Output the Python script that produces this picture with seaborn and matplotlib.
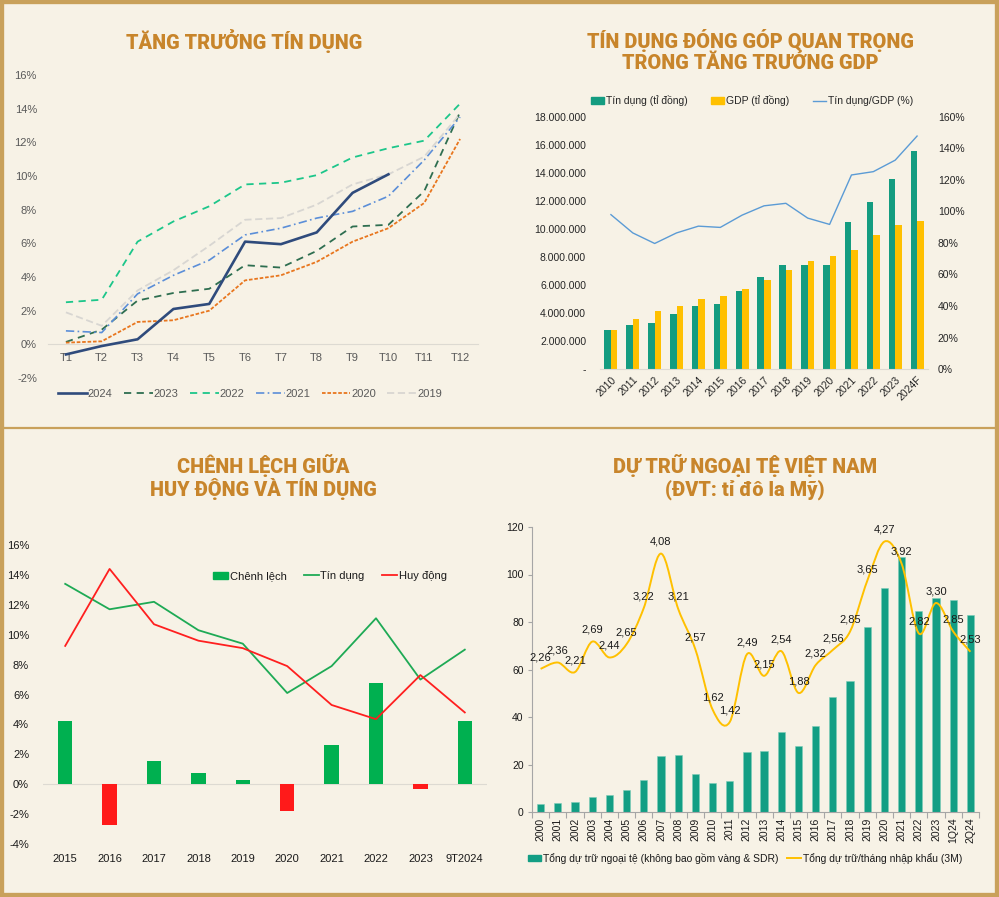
import numpy as np
import pandas as pd
import matplotlib.pyplot as plt
import seaborn as sns
from matplotlib.path import Path
from matplotlib.patches import PathPatch, Patch, Rectangle
from matplotlib.lines import Line2D
from matplotlib.ticker import FuncFormatter

# ---- panel 1: tăng trưởng tín dụng theo tháng (%)
months = ['T1', 'T2', 'T3', 'T4', 'T5', 'T6', 'T7', 'T8', 'T9', 'T10', 'T11', 'T12']
g2024 = [-0.6, -0.1, 0.3, 2.1, 2.4, 6.1, 5.95, 6.65, 9.0, 10.1]
g2023 = [0.14, 0.87, 2.6, 3.05, 3.3, 4.7, 4.56, 5.55, 7.0, 7.1, 9.1, 13.8]
g2022 = [2.5, 2.65, 6.1, 7.3, 8.2, 9.5, 9.6, 10.05, 11.1, 11.65, 12.1, 14.3]
g2021 = [0.8, 0.7, 3.0, 4.1, 5.0, 6.5, 6.9, 7.5, 7.9, 8.8, 10.95, 13.5]
g2020 = [0.1, 0.18, 1.33, 1.43, 2.0, 3.8, 4.1, 4.9, 6.1, 6.9, 8.4, 12.2]
g2019 = [1.9, 1.1, 3.2, 4.4, 5.85, 7.4, 7.5, 8.3, 9.5, 10.1, 11.15, 13.7]

# ---- panel 2: tín dụng, GDP (tỉ đồng) và tín dụng/GDP (%)
years_gdp = ['2010', '2011', '2012', '2013', '2014', '2015', '2016', '2017',
             '2018', '2019', '2020', '2021', '2022', '2023', '2024F']
credit = [2760000, 3110000, 3300000, 3930000, 4520000, 4650000, 5550000, 6550000,
          7400000, 7400000, 7400000, 10470000, 11930000, 13570000, 15600000]
gdp = [2780000, 3590000, 4140000, 4520000, 5000000, 5200000, 5690000, 6350000,
       7050000, 7740000, 8100000, 8500000, 9540000, 10260000, 10540000]
credit_gdp = [98, 86.4, 79.7, 86.4, 90.7, 89.9, 97.7, 103.6, 105.2, 95.8, 91.8,
              123.2, 125.3, 132.6, 147.9]

# ---- panel 3: chênh lệch huy động / tín dụng (%)
years_gap = ['2015', '2016', '2017', '2018', '2019', '2020', '2021', '2022', '2023', '9T2024']
credit_growth = [13.4, 11.7, 12.2, 10.3, 9.4, 6.1, 7.9, 11.1, 7.0, 9.0]
deposit_growth = [9.25, 14.4, 10.7, 9.6, 9.1, 7.9, 5.3, 4.35, 7.3, 4.8]
gap = [4.2, -2.74, 1.56, 0.76, 0.3, -1.78, 2.6, 6.74, -0.3, 4.2]

# ---- panel 4: dự trữ ngoại tệ (tỉ USD) và số tháng nhập khẩu
periods = ['2000', '2001', '2002', '2003', '2004', '2005', '2006', '2007', '2008',
           '2009', '2010', '2011', '2012', '2013', '2014', '2015', '2016', '2017',
           '2018', '2019', '2020', '2021', '2022', '2023', '1Q24', '2Q24']
reserves = [3.5, 3.8, 4.2, 6.3, 7.1, 9.1, 13.4, 23.5, 24.0, 16.1, 12.2, 13.2, 25.3,
            25.5, 33.8, 27.9, 36.2, 48.5, 55.0, 77.9, 94.3, 107.4, 84.8, 90.2, 89.1, 82.8]
import_months = [2.26, 2.36, 2.21, 2.69, 2.44, 2.65, 3.22, 4.08, 3.21, 2.57, 1.62, 1.42,
                 2.49, 2.15, 2.54, 1.88, 2.32, 2.56, 2.85, 3.65, 4.27, 3.92, 2.82, 3.30,
                 2.85, 2.53]

BG = '#F7F2E6'
GOLD = '#C9A15B'
TITLE = '#C8852B'
W, H = 999, 897

plt.rcParams['font.family'] = ['Liberation Sans', 'DejaVu Sans']

fig = plt.figure(figsize=(W / 100, H / 100), dpi=100)
fig.patch.set_facecolor(BG)


def place(left, top, right, bottom):
    ax = fig.add_axes([left / W, 1 - bottom / H, (right - left) / W, (bottom - top) / H])
    ax.set_facecolor('none')
    return ax


def title(x, y, text):
    fig.text(x / W, 1 - y / H, text, ha='center', va='center', fontsize=14.3,
             fontweight='heavy', color=TITLE, family=['Roboto', 'DejaVu Sans'])


pct = FuncFormatter(lambda v, p: f'{v:.0f}%')

# ================= panel 1
title(244, 41, 'TĂNG TRƯỞNG TÍN DỤNG')
ax1 = place(48, 75, 478, 378)
styles = [
    ('2024', g2024, '#2F4B7C', '-', 1.9),
    ('2023', g2023, '#2E6E50', (0, (4, 3)), 1.3),
    ('2022', g2022, '#1CC68A', (0, (4, 3)), 1.3),
    ('2021', g2021, '#5B8ED8', (0, (5, 2, 1, 2)), 1.2),
    ('2020', g2020, '#E8761E', (0, (2, 1)), 1.3),
    ('2019', g2019, '#D8D6D2', (0, (4, 2)), 1.3),
]
for name, vals, col, ls, lw in styles:
    sns.lineplot(x=np.arange(len(vals)), y=vals, ax=ax1, color=col, linestyle=ls,
                 linewidth=lw, label=name, zorder=3 if name == '2024' else 2)
ax1.set_xlim(-0.5, 11.5)
ax1.set_ylim(-2, 16)
ax1.set_yticks(range(-2, 17, 2))
ax1.yaxis.set_major_formatter(pct)
ax1.set_xticks(range(12))
ax1.set_xticklabels(months)
for s in ['top', 'right', 'left']:
    ax1.spines[s].set_visible(False)
ax1.spines['bottom'].set_position(('data', 0))
ax1.spines['bottom'].set_color('#DDDAD2')
ax1.tick_params(length=0, labelsize=8, colors='#595959')
ax1.tick_params(axis='y', pad=8)
ax1.tick_params(axis='x', pad=6)
ax1.set_xlabel('')
ax1.set_ylabel('')
h1, l1 = ax1.get_legend_handles_labels()
ax1.legend(h1, l1, loc='center', bbox_to_anchor=(250 / W, 1 - 394 / H),
           bbox_transform=fig.transFigure, ncol=6, frameon=False, fontsize=8,
           handlelength=2.6, handletextpad=0.1, columnspacing=1.0, labelcolor='#595959')

# ================= panel 2
title(750, 41, 'TÍN DỤNG ĐÓNG GÓP QUAN TRỌNG')
title(750, 63, 'TRONG TĂNG TRƯỞNG GDP')
ax2 = place(600, 117, 928, 369)
lbl_c, lbl_g = 'Tín dụng (tỉ đồng)', 'GDP (tỉ đồng)'
df2 = pd.DataFrame({
    'year': years_gdp * 2,
    'value': credit + gdp,
    'series': [lbl_c] * len(credit) + [lbl_g] * len(gdp),
})
sns.barplot(data=df2, x='year', y='value', hue='series', palette=['#149C80', '#FFC000'],
            width=0.6, saturation=1, legend=False, ax=ax2)
ax2.set_ylim(0, 18000000)
ax2.set_yticks(range(0, 18000001, 2000000))
ax2.yaxis.set_major_formatter(FuncFormatter(
    lambda v, p: '-' if v == 0 else f'{v:,.0f}'.replace(',', '.')))
ax2.set_xticks(range(len(years_gdp)))
ax2.set_xticklabels(years_gdp, rotation=45, ha='right', rotation_mode='anchor')
for s in ['top', 'right', 'left']:
    ax2.spines[s].set_visible(False)
ax2.spines['bottom'].set_color('#DDDAD2')
ax2.tick_params(length=0, labelsize=7.5, colors='#262626')
ax2.tick_params(axis='y', pad=10)
ax2.tick_params(axis='x', pad=4)
ax2.set_xlabel('')
ax2.set_ylabel('')
ax2b = ax2.twinx()
sns.lineplot(x=np.arange(len(credit_gdp)), y=credit_gdp, ax=ax2b, color='#5B9BD5', linewidth=1.0)
ax2b.set_ylim(0, 160)
ax2b.set_yticks(range(0, 161, 20))
ax2b.yaxis.set_major_formatter(pct)
for s in ax2b.spines.values():
    s.set_visible(False)
ax2b.tick_params(length=0, labelsize=7.5, colors='#262626', pad=7)
ax2b.set_ylabel('')
ax2.set_xlim(-0.5, len(years_gdp) - 0.5)
h2 = [Patch(color='#149C80'), Patch(color='#FFC000'), Line2D([], [], color='#5B9BD5', lw=1.0)]
ax2.legend(h2, [lbl_c, lbl_g, 'Tín dụng/GDP (%)'], loc='center',
           bbox_to_anchor=(752 / W, 1 - 101 / H), bbox_transform=fig.transFigure,
           ncol=3, frameon=False, fontsize=7.5, handlelength=1.3, handleheight=0.7,
           handletextpad=0.2, columnspacing=2.2, labelcolor='#262626')

# ================= panel 3
title(263, 466, 'CHÊNH LỆCH GIỮA')
title(263, 489, 'HUY ĐỘNG VÀ TÍN DỤNG')
ax3 = place(43, 545, 487, 844)
sign = ['pos' if v >= 0 else 'neg' for v in gap]
sns.barplot(x=years_gap, y=gap, hue=sign, palette={'pos': '#00B050', 'neg': '#FF1A1A'},
            dodge=False, width=0.32, saturation=1, legend=False, ax=ax3)
ax3.axhline(0, color='#DDDAD2', lw=0.8, zorder=0)
sns.lineplot(x=np.arange(len(credit_growth)), y=credit_growth, ax=ax3, color='#1EAA55', linewidth=1.3)
sns.lineplot(x=np.arange(len(deposit_growth)), y=deposit_growth, ax=ax3, color='#FF1F1F', linewidth=1.3)
ax3.set_ylim(-4, 16)
ax3.set_xlim(-0.5, len(years_gap) - 0.5)
ax3.set_yticks(range(-4, 17, 2))
ax3.yaxis.set_major_formatter(pct)
ax3.set_xticks(range(len(years_gap)))
ax3.set_xticklabels(years_gap)
for s in ax3.spines.values():
    s.set_visible(False)
ax3.tick_params(length=0, labelsize=8, colors='#1A1A1A')
ax3.tick_params(axis='y', pad=10)
ax3.tick_params(axis='x', pad=7)
ax3.set_xlabel('')
ax3.set_ylabel('')
h3 = [Patch(color='#00B050'), Line2D([], [], color='#1EAA55', lw=1.3),
      Line2D([], [], color='#FF1F1F', lw=1.3)]
ax3.legend(h3, ['Chênh lệch', 'Tín dụng', 'Huy động'], loc='center',
           bbox_to_anchor=(330 / W, 1 - 576 / H), bbox_transform=fig.transFigure,
           ncol=3, frameon=False, fontsize=8, handlelength=1.3, handleheight=0.6,
           handletextpad=0.15, columnspacing=1.6, labelcolor='#1A1A1A')

# ================= panel 4
title(745, 466, 'DỰ TRỮ NGOẠI TỆ VIỆT NAM')
title(745, 490, '(ĐVT: tỉ đô la Mỹ)')
ax4 = place(532, 527, 979, 812)
sns.barplot(x=periods, y=reserves, color='#139E84', width=0.42, saturation=1,
            edgecolor='#7CCDB9', linewidth=0.4, ax=ax4)
ax4.set_ylim(0, 120)
ax4.set_xlim(-0.5, len(periods) - 0.5)
ax4.set_yticks(range(0, 121, 20))
ax4.set_xticks(range(len(periods)))
ax4.set_xticklabels(periods, rotation=90)
ax4.set_xticks(np.arange(-0.5, len(periods), 1), minor=True)
for s in ['top', 'right']:
    ax4.spines[s].set_visible(False)
for s in ['left', 'bottom']:
    ax4.spines[s].set_color('#A6A6A6')
    ax4.spines[s].set_linewidth(0.8)
ax4.tick_params(axis='x', which='major', length=0, pad=4, labelsize=7.5, colors='#1A1A1A')
ax4.tick_params(axis='x', which='minor', length=4, color='#A6A6A6', width=0.8)
ax4.tick_params(axis='y', length=3, color='#A6A6A6', width=0.8, labelsize=7.5,
                labelcolor='#1A1A1A', pad=3)
ax4.set_xlabel('')
ax4.set_ylabel('')

ax4b = ax4.twinx()
ax4b.set_ylim(0, 4.5)
ax4b.set_axis_off()
pts = np.column_stack([np.arange(len(import_months)), import_months]).astype(float)
verts, codes = [tuple(pts[0])], [Path.MOVETO]
n = len(pts)
for i in range(n - 1):
    p0, p1, p2, p3 = pts[max(i - 1, 0)], pts[i], pts[i + 1], pts[min(i + 2, n - 1)]
    verts += [tuple(p1 + (p2 - p0) / 6), tuple(p2 - (p3 - p1) / 6), tuple(p2)]
    codes += [Path.CURVE4] * 3
ax4b.add_patch(PathPatch(Path(verts, codes), facecolor='none', edgecolor='#FFC000',
                         lw=1.4, transform=ax4b.transData))
for i, v in enumerate(import_months):
    ax4b.annotate(f'{v:.2f}'.replace('.', ','), (i, v), xytext=(0, 8.5),
                  textcoords='offset points', ha='center', va='center',
                  fontsize=8, color='#1A1A1A')
h4 = [Patch(color='#139E84'), Line2D([], [], color='#FFC000', lw=1.4)]
ax4.legend(h4, ['Tổng dự trữ ngoại tệ (không bao gồm vàng & SDR)',
                'Tổng dự trữ/tháng nhập khẩu (3M)'], loc='center',
           bbox_to_anchor=(745 / W, 1 - 858 / H), bbox_transform=fig.transFigure,
           ncol=2, frameon=False, fontsize=7.5, handlelength=1.3, handleheight=0.6,
           handletextpad=0.2, columnspacing=0.8, labelcolor='#1A1A1A')

# ================= frame
fig.add_artist(Line2D([0, 1], [1 - 428 / H] * 2, transform=fig.transFigure,
                      color=GOLD, lw=1.6))
fig.add_artist(Rectangle((0, 0), 1, 1, transform=fig.transFigure, fill=False,
                         edgecolor=GOLD, lw=6))

fig.savefig('out.png', dpi=100, facecolor=BG)
